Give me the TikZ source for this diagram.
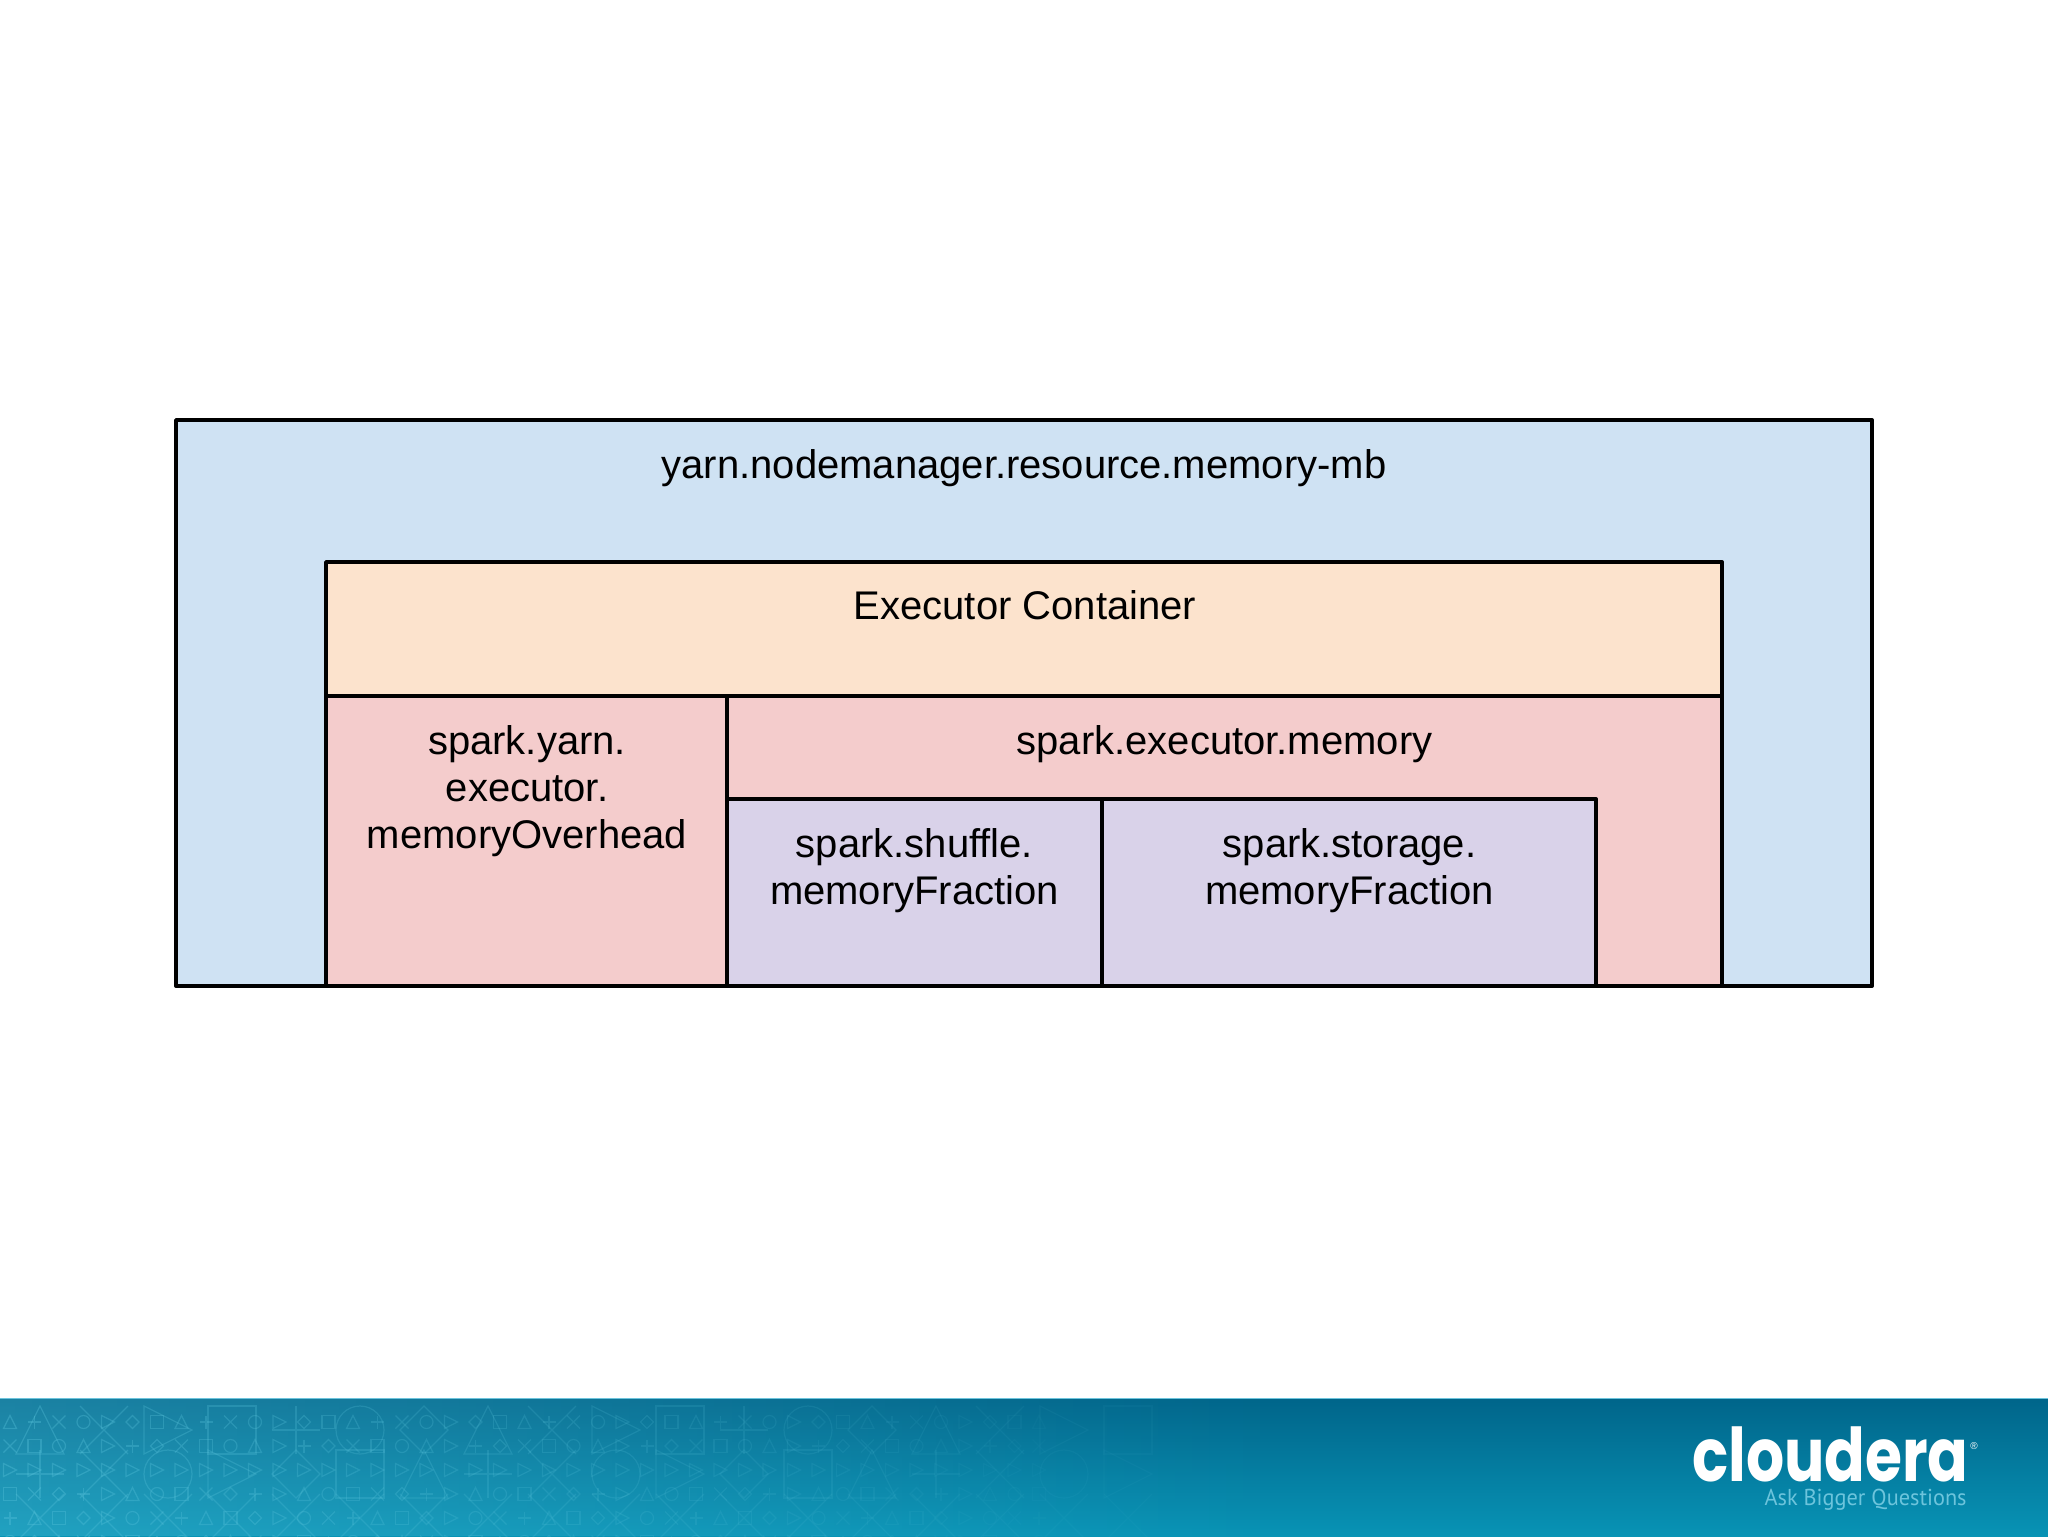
\documentclass[tikz,border=0pt]{standalone}
\usepackage{fontspec}
\setmainfont{Liberation Sans}
\newfontfamily\logofont[FakeStretch=0.81]{Poppins}
\newfontfamily\tagfont[FakeStretch=0.97]{PT Sans}
\usetikzlibrary{calc,fadings}

\definecolor{outerblue}{HTML}{CFE2F3}
\definecolor{execorange}{HTML}{FCE3CD}
\definecolor{memorypink}{HTML}{F4CCCC}
\definecolor{fractionlilac}{HTML}{D9D2E9}
\definecolor{bandtop}{HTML}{00658A}
\definecolor{bandbottom}{HTML}{0893B5}
\definecolor{bandglyph}{HTML}{5CC6DE}
\definecolor{taglabel}{HTML}{6CC4DC}

\tikzfading[name=bandfade,left color=transparent!70,right color=transparent!100]

\tikzset{
  membox/.style={draw=black,line width=1.9pt,line join=round},
  memlabel/.style={font=\fontsize{20}{23.4}\selectfont,text=black,inner sep=0pt,align=center,anchor=base},
  glyphline/.style={draw=bandglyph,line width=0.6pt}
}

% one sign of the band texture, type #1 at (#2,#3), half size #4
\newcommand{\bandsign}[4]{
\ifcase#1
\draw[glyphline] (#2-#4,#3+#4) -- (#2+#4,#3+#4) -- (#2,#3-#4) -- cycle;
\or
\draw[glyphline] (#2,#3) circle ({#4*0.5pt});
\or
\draw[glyphline] (#2-#4,#3-#4) rectangle (#2+#4,#3+#4);
\or
\draw[glyphline] (#2-#4,#3-#4) -- (#2+#4,#3+#4) (#2-#4,#3+#4) -- (#2+#4,#3-#4);
\or
\draw[glyphline] (#2-#4,#3) -- (#2,#3-#4) -- (#2+#4,#3) -- (#2,#3+#4) -- cycle;
\or
\draw[glyphline] (#2-#4,#3) -- (#2+#4,#3) (#2,#3-#4) -- (#2,#3+#4);
\else
\draw[glyphline] (#2-#4,#3-#4) -- (#2+#4,#3) -- (#2-#4,#3+#4) -- cycle;
\fi
}

\begin{document}
\begin{tikzpicture}[x=0.5pt,y=-0.5pt]

\useasboundingbox (0,0) rectangle (2048,1536);

% Footer band
\shade[top color=bandtop,bottom color=bandbottom] (0,1398) rectangle (2048,1536);
\fill[bandglyph,path fading=bandfade] (0,1398) rectangle (1300,1536);
\draw[taglabel,line width=0.5pt] (0,1398) -- (2048,1398);

% Band texture, small and large signs
\begin{scope}
\clip (0,1400) rectangle (2048,1536);
\foreach \cc in {0,...,42}{
\foreach \rr in {0,...,5}{
\pgfmathtruncatemacro{\kind}{mod(\cc*5+\rr*3+\cc*\rr,7)}
\pgfmathsetmacro{\fade}{max(0.04,0.34*(1-\cc/48))}
\pgfmathsetmacro{\px}{10+24.5*\cc}
\pgfmathsetmacro{\py}{1422+24*\rr}
\begin{scope}[opacity=\fade]
\bandsign{\kind}{\px}{\py}{6.5}
\end{scope}
}
}
\foreach \cc in {0,...,17}{
\foreach \rr in {0,1,2}{
\pgfmathtruncatemacro{\kind}{mod(\cc*3+\rr*5+\cc*\rr*2,7)}
\pgfmathsetmacro{\fade}{max(0.05,0.3*(1-\cc/20))}
\pgfmathsetmacro{\px}{40+64*\cc}
\pgfmathsetmacro{\py}{1430+44*\rr}
\begin{scope}[opacity=\fade]
\bandsign{\kind}{\px}{\py}{24}
\end{scope}
}
}
\end{scope}

% Logo
\node[text=white,inner sep=0pt,anchor=base east] (logo) at (1969,1481) {\logofont\bfseries\fontsize{37}{37}\selectfont cloudera};
\node[text=white,inner sep=0pt] (logomark) at (1974,1446) {\fontsize{5}{5}\selectfont ®};
\node[text=taglabel,inner sep=0pt,anchor=base east] (tagline) at (1967,1505) {\tagfont\fontsize{11.5}{12}\selectfont Ask Bigger Questions};

% Memory boxes
\draw[membox,fill=outerblue] (176,420) coordinate(NM) rectangle (1872,986) coordinate(NMe);
\draw[membox,fill=execorange] (326,562) coordinate(EX) rectangle (1722,986) coordinate(EXe);
\draw[membox,fill=memorypink] (326,696) coordinate(OH) rectangle (727,986) coordinate(OHe);
\draw[membox,fill=memorypink] (727,696) coordinate(EM) rectangle (1722,986) coordinate(EMe);
\draw[membox,fill=fractionlilac] (727,799) coordinate(SH) rectangle (1102,986) coordinate(SHe);
\draw[membox,fill=fractionlilac] (1102,799) coordinate(ST) rectangle (1596,986) coordinate(STe);

% Box labels
\node[memlabel] (nmlabel) at (1024,478) {yarn.nodemanager.resource.memory-mb};
\node[memlabel] (exlabel) at (1025,619) {Executor Container};
\node[memlabel] (oh1) at (527,754) {spark.yarn.};
\node[memlabel] (oh2) at (527,801.5) {executor.};
\node[memlabel] (oh3) at (527,848) {memoryOverhead};
\node[memlabel] (emlabel) at (1224.5,754) {spark.executor.memory};
\node[memlabel] (sh1) at (914.5,857) {spark.shuffle.};
\node[memlabel] (sh2) at (914.5,904) {memoryFraction};
\node[memlabel] (st1) at (1349.5,857) {spark.storage.};
\node[memlabel] (st2) at (1349.5,904) {memoryFraction};

\end{tikzpicture}
\end{document}
